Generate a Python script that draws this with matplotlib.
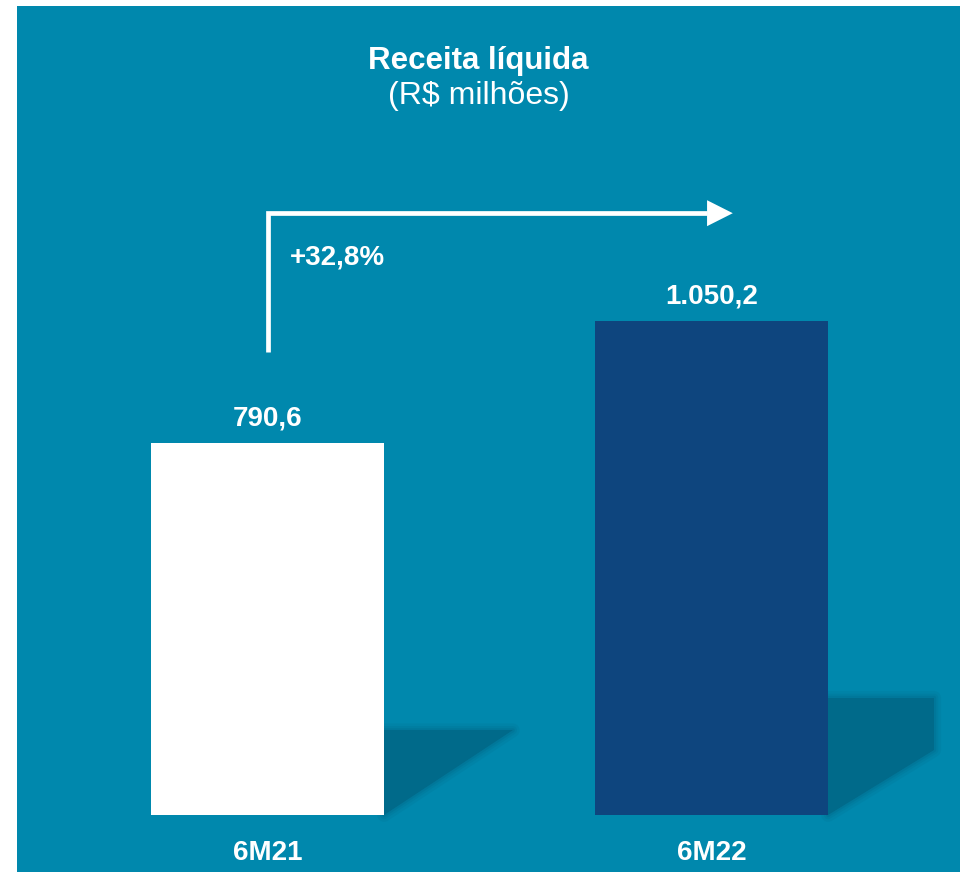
import matplotlib.pyplot as plt
from matplotlib.patches import Polygon, Rectangle

# Dados
periodos = ['6M21', '6M22']
receita = [790.6, 1050.2]
cores = ['#FFFFFF', '#0E457E']
titulo = 'Receita líquida'
subtitulo = '(R$ milhões)'

FUNDO = '#0088AD'
SOMBRA = '#006A8A'

plt.rcParams['font.family'] = ['Liberation Sans', 'DejaVu Sans']

fig = plt.figure(figsize=(9.6, 8.72), dpi=100, facecolor='white')
fig.patches.append(Rectangle((17/960, 0), 1, 1 - 6/872, transform=fig.transFigure,
                             facecolor=FUNDO, edgecolor='none', zorder=0))

ax = fig.add_axes([0, 0, 1, 1])
ax.set_zorder(1)
ax.set_facecolor('none')
ax.axis('off')
ax.set_xlim(-0.6025, 1.5597)
ax.set_ylim(-121.14, 1732.1)

x = list(range(len(periodos)))
larg = 0.525

# sombras atras das barras (bordas suaves)
meia = larg / 2
sombras = [
    [(x[0] + meia, 0), (x[0] + meia, 180), (x[0] + meia + 0.29, 180)],
    [(x[1] + meia, 0), (x[1] + meia, 249), (x[1] + meia + 0.239, 249),
     (x[1] + meia + 0.239, 138)],
]
for pts in sombras:
    ax.add_patch(Polygon(pts, closed=True, facecolor=SOMBRA, edgecolor='none', zorder=1))
    for lw, a in [(10, 0.15), (6, 0.2), (3, 0.3)]:
        ax.add_patch(Polygon(pts, closed=True, facecolor='none', edgecolor=SOMBRA,
                             lw=lw, alpha=a, joinstyle='round', zorder=1))

ax.bar(x, receita, width=larg, color=cores, edgecolor='none', zorder=2)

for xi, v in zip(x, receita):
    txt = f'{v:,.1f}'.replace(',', 'X').replace('.', ',').replace('X', '.')
    ax.annotate(txt, (xi, v), xytext=(0, 12.6), textcoords='offset points',
                ha='center', va='baseline', color='white', fontsize=20, fontweight='bold')

for xi, p in zip(x, periodos):
    ax.annotate(p, (xi, 0), xytext=(0, -32.4), textcoords='offset points',
                ha='center', va='baseline', color='white', fontsize=20, fontweight='bold')

# seta de crescimento
y_seta = 1279
ax.plot([x[0], x[0], 0.99], [984, y_seta, y_seta], color='white', lw=3.4,
        solid_joinstyle='miter', solid_capstyle='butt', zorder=3)
ax.add_patch(Polygon([(0.99, y_seta - 27.6), (1.048, y_seta), (0.99, y_seta + 27.6)],
                     closed=True, facecolor='white', edgecolor='none', zorder=3))
cresc = (receita[1] / receita[0] - 1) * 100
ax.text(0.0507, 1171, f'+{cresc:.1f}%'.replace('.', ','), ha='left', va='baseline',
        color='white', fontsize=20, fontweight='bold')

fig.text(478.5/960, 1 - 69.3/872, titulo, ha='center', va='baseline',
         color='white', fontsize=22.5, fontweight='bold', zorder=2)
fig.text(478.9/960, 1 - 104/872, subtitulo, ha='center', va='baseline',
         color='white', fontsize=23, zorder=2)

fig.savefig('out.png', dpi=100, facecolor='white')
